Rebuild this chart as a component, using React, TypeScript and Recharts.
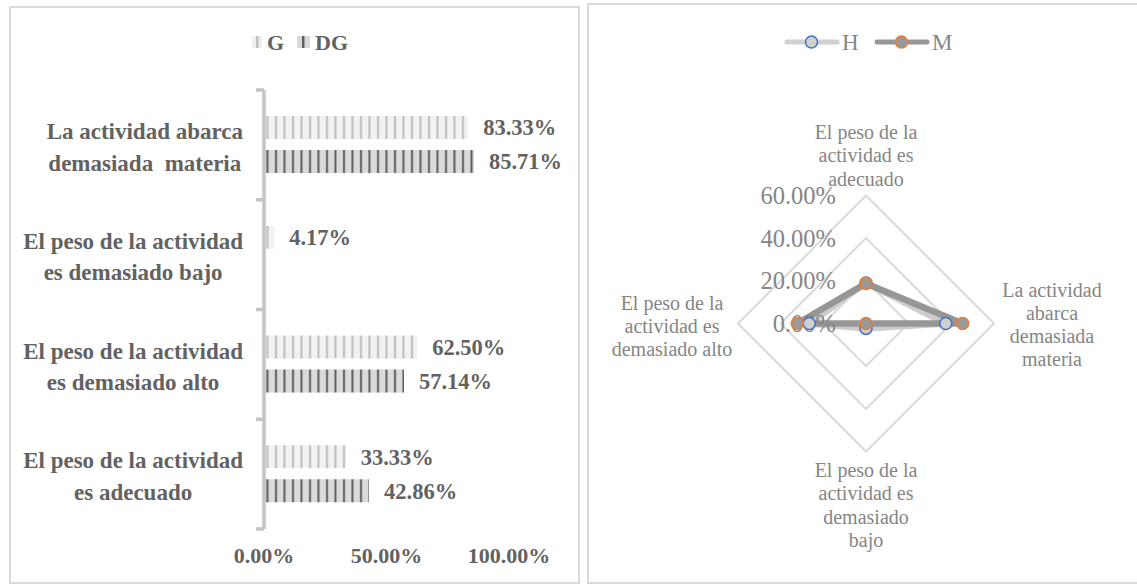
import {
  BarChart,
  Bar,
  XAxis,
  YAxis,
  LabelList,
  RadarChart,
  Radar,
  PolarGrid,
  PolarAngleAxis,
  PolarRadiusAxis,
} from "recharts";

const SERIF = "'Liberation Serif', 'Times New Roman', serif";

// ---- bar chart data ----
const barCategories = [
  "La actividad abarca demasiada materia",
  "El peso de la actividad es demasiado bajo",
  "El peso de la actividad es demasiado alto",
  "El peso de la actividad es adecuado",
];
const barCategoryLines = [
  ["La actividad abarca", "demasiada  materia"],
  ["El peso de la actividad", "es demasiado bajo"],
  ["El peso de la actividad", "es demasiado alto"],
  ["El peso de la actividad", "es adecuado"],
];
const gValues = [0.8333, 0.0417, 0.625, 0.3333];
const dgValues = [0.8571, 0, 0.5714, 0.4286];
const barTicks = [0, 0.5, 1];

// ---- radar chart data ----
const radarAxes = [
  "El peso de la actividad es adecuado",
  "La actividad abarca demasiada materia",
  "El peso de la actividad es demasiado bajo",
  "El peso de la actividad es demasiado alto",
];
const radarAxisLines = [
  ["El peso de la", "actividad es", "adecuado"],
  ["La actividad", "abarca", "demasiada", "materia"],
  ["El peso de la", "actividad es", "demasiado", "bajo"],
  ["El peso de la", "actividad es", "demasiado alto"],
];
const hValues = [0.19, 0.374, 0.023, 0.266];
const mValues = [0.188, 0.453, 0, 0.322];
const radarTicks = [0, 0.2, 0.4, 0.6];

const barData = barCategories.map((name, i) => ({
  name,
  G: gValues[i],
  DG: dgValues[i],
}));
const radarData = radarAxes.map((subject, i) => ({
  subject,
  H: hValues[i],
  M: mValues[i],
}));

const pct = (v: number) => `${(v * 100).toFixed(2)}%`;

// layout of the bar chart
const BAR_W = 578;
const BAR_H = 585;
const PLOT_LEFT = 264;
const PLOT_TOP = 90;
const PLOT_BOTTOM = 529;
const BAND = (PLOT_BOTTOM - PLOT_TOP) / barCategories.length;
const LABEL_RIGHT = 243;
const DARK_TEXT = "#626262";
const CAT_FONT = 23;

// layout of the radar chart
const RAD_LEFT = 588;
const RAD_TOP = 4;
const RAD_W = 549;
const RAD_H = 580;
const CX = 278;
const CY = 319.5;
const R = 128;
const LIGHT_TEXT = "#858585";

let measureCtx: CanvasRenderingContext2D | null = null;
function textWidth(s: string, font: string) {
  if (!measureCtx) measureCtx = document.createElement("canvas").getContext("2d");
  if (!measureCtx) return s.length * 10;
  measureCtx.font = font;
  return measureCtx.measureText(s).width;
}

function CategoryTick(props: any) {
  const { y, payload } = props;
  const idx = barCategories.indexOf(payload.value);
  const lines = barCategoryLines[idx] || [payload.value];
  const font = `bold ${CAT_FONT}px ${SERIF}`;
  const blockW = Math.max(...lines.map((l) => textWidth(l, font)));
  const mid = LABEL_RIGHT - blockW / 2;
  const lh = 31.5;
  const top = y + 2.5 - ((lines.length - 1) * lh) / 2;
  return (
    <g>
      {lines.map((l, i) => (
        <text
          key={i}
          x={mid}
          y={top + i * lh}
          textAnchor="middle"
          dominantBaseline="central"
          fontFamily={SERIF}
          fontWeight="bold"
          fontSize={CAT_FONT}
          fill={DARK_TEXT}
          style={{ whiteSpace: "pre" }}
        >
          {l}
        </text>
      ))}
      <line
        x1={PLOT_LEFT - 8}
        x2={PLOT_LEFT}
        y1={y - BAND / 2}
        y2={y - BAND / 2}
        stroke="#c4c4c4"
        strokeWidth={3.5}
      />
      {idx === barCategories.length - 1 && (
        <line
          x1={PLOT_LEFT - 8}
          x2={PLOT_LEFT}
          y1={y + BAND / 2}
          y2={y + BAND / 2}
          stroke="#c4c4c4"
          strokeWidth={3.5}
        />
      )}
    </g>
  );
}

function ValueTick(props: any) {
  const { x, payload } = props;
  return (
    <text
      x={x}
      y={555}
      textAnchor="middle"
      dominantBaseline="central"
      fontFamily={SERIF}
      fontWeight="bold"
      fontSize={22}
      fill={DARK_TEXT}
    >
      {pct(payload.value)}
    </text>
  );
}

function RadiusTick(props: any) {
  const { x, y, payload } = props;
  return (
    <text
      x={x - 30}
      y={y}
      textAnchor="end"
      dominantBaseline="central"
      fontFamily={SERIF}
      fontSize={24.5}
      fill={LIGHT_TEXT}
    >
      {pct(payload.value)}
    </text>
  );
}

function AngleTick(props: any) {
  const { payload } = props;
  const idx = radarAxes.indexOf(payload.value);
  const lines = radarAxisLines[idx] || [payload.value];
  const lh = 23.3;
  let x = CX;
  let y0 = 0;
  if (idx === 0) {
    x = CX;
    y0 = CY - R - 17 - (lines.length - 1) * lh;
  } else if (idx === 1) {
    x = CX + R + 58;
    y0 = CY + 1 - ((lines.length - 1) * lh) / 2;
  } else if (idx === 2) {
    x = CX;
    y0 = CY + R + 18.5;
  } else {
    x = CX - R - 66;
    y0 = CY + 2.5 - ((lines.length - 1) * lh) / 2;
  }
  return (
    <g>
      {lines.map((l, i) => (
        <text
          key={i}
          x={x}
          y={y0 + i * lh}
          textAnchor="middle"
          dominantBaseline="central"
          fontFamily={SERIF}
          fontSize={20}
          fill={LIGHT_TEXT}
        >
          {l}
        </text>
      ))}
    </g>
  );
}

// marker renderer for the radar series
const marker = (fill: string, stroke: string) => (p: any) => (
  <circle
    key={`${p.dataKey}-${p.index}`}
    cx={p.cx}
    cy={p.cy}
    r={6}
    fill={fill}
    stroke={stroke}
    strokeWidth={1.6}
  />
);

const panel = (left: number, top: number, width: number, height: number) => ({
  position: "absolute" as const,
  left,
  top,
  width,
  height,
  border: "2px solid #d9d9d9",
  boxSizing: "border-box" as const,
});

function BarLegend() {
  return (
    <svg
      width={140}
      height={30}
      style={{ position: "absolute", left: 245, top: 27 }}
      fontFamily={SERIF}
    >
      <rect x={7} y={9} width={10} height={12} fill="#eeeeee" />
      <rect x={11} y={9} width={2.5} height={12} fill="#bdbdbd" />
      <text x={22} y={15} dominantBaseline="central" fontSize={22} fontWeight="bold" fill={DARK_TEXT}>
        G
      </text>
      <rect x={52} y={9} width={13} height={12} fill="#d9d9d9" />
      <rect x={57} y={9} width={2.5} height={12} fill="#5e5e5e" />
      <text x={70} y={15} dominantBaseline="central" fontSize={22} fontWeight="bold" fill={DARK_TEXT}>
        DG
      </text>
    </svg>
  );
}

function RadarLegend() {
  return (
    <svg
      width={200}
      height={30}
      style={{ position: "absolute", left: 775, top: 27 }}
      fontFamily={SERIF}
    >
      <line x1={12} x2={62} y1={15} y2={15} stroke="#d0d0d0" strokeWidth={5} strokeLinecap="round" />
      <circle cx={36.5} cy={15} r={6} fill="#cfcfcf" stroke="#4472c4" strokeWidth={1.5} />
      <text x={67} y={15} dominantBaseline="central" fontSize={23} fill={LIGHT_TEXT}>
        H
      </text>
      <line x1={102} x2={152} y1={15} y2={15} stroke="#979797" strokeWidth={5} strokeLinecap="round" />
      <circle cx={126.5} cy={15} r={6} fill="#999999" stroke="#ed7d31" strokeWidth={1.5} />
      <text x={157} y={15} dominantBaseline="central" fontSize={23} fill={LIGHT_TEXT}>
        M
      </text>
    </svg>
  );
}

export default function App() {
  return (
    <div
      style={{
        position: "absolute",
        left: 0,
        top: 0,
        width: 1137,
        height: 585,
        background: "#ffffff",
        overflow: "hidden",
      }}
    >
      <div style={panel(9, 6, 571, 578)} />
      <div style={panel(587, 3, 552, 581)} />

      <div style={{ position: "absolute", left: 0, top: 0 }}>
        <BarChart
          width={BAR_W}
          height={BAR_H}
          data={barData}
          layout="vertical"
          margin={{ top: PLOT_TOP, right: 69, bottom: BAR_H - PLOT_BOTTOM - 30, left: 0 }}
          barSize={23}
          barGap={11}
        >
          <defs>
            <pattern id="stripeG" width={8.5} height={10} patternUnits="userSpaceOnUse">
              <rect width={8.5} height={10} fill="#f2f2f2" />
              <rect x={3} width={2} height={10} fill="#bcbcbc" />
            </pattern>
            <pattern id="stripeDG" width={8.5} height={10} patternUnits="userSpaceOnUse">
              <rect width={8.5} height={10} fill="#dadada" />
              <rect x={3} width={2} height={10} fill="#5c5c5c" />
            </pattern>
          </defs>
          <XAxis
            type="number"
            domain={[0, 1]}
            ticks={barTicks}
            axisLine={false}
            tickLine={false}
            height={30}
            tick={<ValueTick />}
          />
          <YAxis
            type="category"
            dataKey="name"
            width={PLOT_LEFT}
            axisLine={{ stroke: "#c4c4c4", strokeWidth: 3.5 }}
            tickLine={false}
            tick={<CategoryTick />}
            interval={0}
          />
          <Bar dataKey="G" fill="url(#stripeG)" isAnimationActive={false}>
            <LabelList
              dataKey="G"
              position="right"
              offset={15}
              formatter={(v: any) => pct(Number(v))}
              style={{ fontFamily: SERIF, fontWeight: "bold", fontSize: 22.5, fill: DARK_TEXT }}
            />
          </Bar>
          <Bar dataKey="DG" fill="url(#stripeDG)" isAnimationActive={false}>
            <LabelList
              dataKey="DG"
              position="right"
              offset={15}
              formatter={(v: any) => pct(Number(v))}
              style={{ fontFamily: SERIF, fontWeight: "bold", fontSize: 22.5, fill: DARK_TEXT }}
            />
          </Bar>
        </BarChart>
      </div>
      <BarLegend />

      <div style={{ position: "absolute", left: RAD_LEFT, top: RAD_TOP }}>
        <RadarChart
          width={RAD_W}
          height={RAD_H}
          data={radarData}
          cx={CX}
          cy={CY}
          outerRadius={R}
          margin={{ top: 0, right: 0, bottom: 0, left: 0 }}
        >
          <PolarGrid gridType="polygon" radialLines={false} stroke="#d9d9d9" strokeWidth={2} />
          <PolarAngleAxis dataKey="subject" tick={<AngleTick />} tickLine={false} axisLine={false} />
          <PolarRadiusAxis
            type="number"
            angle={90}
            domain={[0, 0.6]}
            ticks={radarTicks as any}
            tickCount={4}
            allowDecimals={true}
            allowDataOverflow={true}
            axisLine={false}
            tickLine={false}
            tick={<RadiusTick />}
          />
          <Radar
            dataKey="H"
            stroke="#cdcdcd"
            strokeWidth={6.5}
            fill="none"
            fillOpacity={0}
            strokeLinejoin="round"
            dot={marker("#cfcfcf", "#4472c4")}
            isAnimationActive={false}
          />
          <Radar
            dataKey="M"
            stroke="#969696"
            strokeWidth={6.5}
            fill="none"
            fillOpacity={0}
            strokeLinejoin="round"
            dot={marker("#999999", "#ed7d31")}
            isAnimationActive={false}
          />
        </RadarChart>
      </div>
      <RadarLegend />
    </div>
  );
}
